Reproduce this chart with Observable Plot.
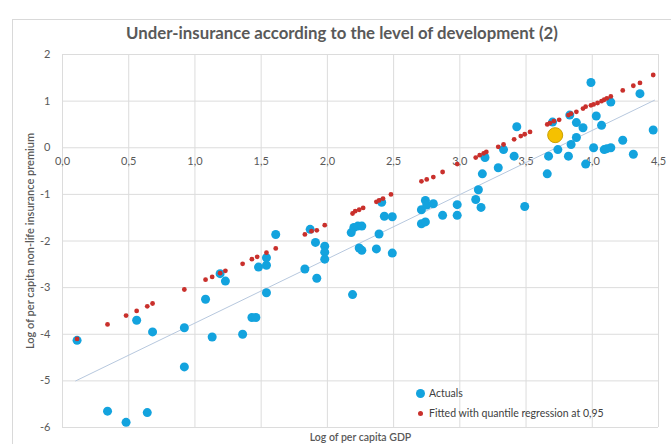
<!DOCTYPE html>
<html><head><meta charset="utf-8">
<script src="https://cdn.jsdelivr.net/npm/d3@7"></script>
<script src="https://cdn.jsdelivr.net/npm/@observablehq/plot@0.6"></script>
<style>
body{margin:0;background:#fff;}
#wrap{position:relative;width:671px;height:444px;overflow:hidden;font-family:Lato,"Open Sans",sans-serif;}
#frame{position:absolute;left:12px;top:19px;width:700px;height:500px;border:1px solid #d9d9d9;box-sizing:border-box;}
#chart{position:absolute;left:0;top:0;}
#title{position:absolute;top:22px;left:24px;width:636px;text-align:center;font-size:16.8px;font-weight:700;color:#595959;white-space:nowrap;}
#legend{position:absolute;left:415px;top:383px;font-size:10.5px;color:#404040;line-height:20px;}
#legend .row{display:flex;align-items:center;height:20px;}
#legend .sw{display:inline-block;border-radius:50%;margin-right:4px;}
</style></head>
<body>
<div id="wrap">
  <div id="frame"></div>
  <div id="chart"></div>
  <div id="title">Under-insurance according to the level of development (2)</div>
  <div id="legend">
    <div class="row"><span class="sw" style="width:9px;height:9px;background:#13a3de;margin-left:1px"></span>Actuals</div>
    <div class="row"><span class="sw" style="width:5px;height:5px;background:#c9302c;margin-left:3px;margin-right:6px"></span>Fitted with quantile regression at 0,95</div>
  </div>
</div>
<script>
// Axis ticks and labels
const xTicks = [0, 0.5, 1, 1.5, 2, 2.5, 3, 3.5, 4, 4.5];
const xTickLabels = ["0,0","0,5","1,0","1,5","2,0","2,5","3,0","3,5","4,0","4,5"];
const yTicks = [2, 1, 0, -1, -2, -3, -4, -5, -6];
const yTickLabels = ["2","1","0","-1","-2","-3","-4","-5","-6"];

// Actuals: log per capita GDP (x), log per capita non-life premium (y)
const actualX = [0.11,0.34,0.48,0.64,0.56,0.68,0.92,0.92,1.08,1.13,1.23,1.19,1.36,1.43,1.46,1.61,1.48,1.54,1.54,1.54,
  1.83,1.87,1.91,1.92,1.98,1.98,1.98,2.18,2.20,2.23,2.26,2.24,2.26,2.19,2.37,2.39,2.41,2.43,2.49,2.49,
  2.71,2.74,2.71,2.74,2.75,2.80,2.87,2.98,2.98,3.12,3.14,3.16,3.17,3.19,3.29,3.33,3.41,3.43,3.49,3.66,
  3.67,3.70,3.74,3.82,3.84,3.83,3.88,3.88,3.93,3.95,3.99,4.01,4.03,4.07,4.09,4.11,4.14,4.14,4.23,4.31,4.36,4.46];
const actualY = [-4.13,-5.65,-5.89,-5.68,-3.70,-3.95,-3.86,-4.70,-3.25,-4.06,-2.86,-2.70,-4.00,-3.64,-3.64,-1.86,-2.56,-2.52,-2.36,-3.11,
  -2.60,-1.75,-2.03,-2.80,-2.11,-2.24,-2.39,-1.82,-1.71,-1.68,-1.68,-2.15,-2.20,-3.15,-2.17,-1.85,-1.17,-1.47,-1.48,-2.26,
  -1.63,-1.59,-1.33,-1.13,-1.23,-1.20,-1.45,-1.22,-1.45,-1.11,-0.90,-1.28,-0.56,-0.21,-0.43,-0.04,-0.18,0.45,-1.26,-0.56,
  -0.18,0.55,-0.04,-0.18,0.07,0.70,0.54,0.22,0.43,-0.35,1.40,0.00,0.68,0.48,-0.04,-0.02,0.00,0.98,0.16,-0.14,1.16,0.38];

// Fitted with quantile regression at 0,95
const fittedX = [0.11,0.34,0.48,0.56,0.64,0.68,0.92,1.08,1.13,1.19,1.23,1.36,1.43,1.47,1.54,1.61,1.83,1.88,1.92,1.98,
  2.19,2.21,2.24,2.27,2.37,2.39,2.42,2.48,2.71,2.75,2.80,2.87,2.98,3.12,3.15,3.18,3.20,3.29,3.33,3.41,
  3.46,3.49,3.53,3.66,3.68,3.71,3.75,3.82,3.84,3.88,3.93,3.95,3.99,4.01,4.04,4.07,4.09,4.11,4.14,4.23,4.31,4.36,4.46];
const fittedY = [-4.10,-3.79,-3.60,-3.50,-3.40,-3.34,-3.04,-2.83,-2.77,-2.69,-2.64,-2.49,-2.39,-2.34,-2.25,-2.16,-1.86,-1.79,-1.77,-1.66,
  -1.41,-1.36,-1.33,-1.29,-1.16,-1.13,-1.09,-1.00,-0.72,-0.68,-0.63,-0.52,-0.35,-0.21,-0.16,-0.12,-0.09,0.02,0.07,0.18,
  0.25,0.29,0.34,0.50,0.53,0.57,0.60,0.70,0.73,0.77,0.84,0.88,0.91,0.93,0.96,1.00,1.03,1.06,1.10,1.23,1.33,1.39,1.56];

// Linear trend line of actuals (endpoints)
const trendX = [0.10, 4.47];
const trendY = [-5.00, 1.02];

// Highlighted country
const highlightX = [3.72];
const highlightY = [0.27];

const actuals = actualX.map((x, i) => ({x, y: actualY[i]}));
const fitted = fittedX.map((x, i) => ({x, y: fittedY[i]}));
const trend = trendX.map((x, i) => ({x, y: trendY[i]}));
const highlight = highlightX.map((x, i) => ({x, y: highlightY[i]}));

const chart = Plot.plot({
  width: 671, height: 444,
  marginLeft: 62, marginRight: 13, marginTop: 54, marginBottom: 17,
  style: {background: "transparent", fontFamily: "Lato, 'Open Sans', sans-serif", color: "#595959", fontSize: "11px"},
  x: {domain: [0, 4.5], axis: null},
  y: {domain: [-6, 2], label: null},
  marks: [
    Plot.gridX(xTicks, {stroke: "#dcdcdc", strokeOpacity: 1}),
    Plot.gridY(yTicks, {stroke: "#dcdcdc", strokeOpacity: 1}),
    Plot.axisY(yTicks, {tickSize: 0, tickPadding: 12, label: null, tickFormat: d => yTickLabels[yTicks.indexOf(d)], fill: "#595959", fontSize: 11}),
    Plot.text(xTicks, {x: d => d, y: () => 0, dy: 14, text: (d, i) => xTickLabels[i], fill: "#595959", fontSize: 11}),
    Plot.line(trend, {x: "x", y: "y", stroke: "#b7c8de", strokeWidth: 1}),
    Plot.dot(actuals, {x: "x", y: "y", r: 4.5, fill: "#13a3de"}),
    Plot.dot(fitted, {x: "x", y: "y", r: 2.4, fill: "#c9302c"}),
    Plot.dot(highlight, {x: "x", y: "y", r: 7.5, fill: "#f5c100", stroke: "#caa000", strokeWidth: 1}),
    Plot.text(["Log of per capita GDP"], {frameAnchor: "bottom", dy: 10, lineAnchor: "middle", text: d => d, fill: "#595959", fontSize: 10.5, fontWeight: 600}),
    Plot.text(["Log of per capita non-life insurance premium"], {frameAnchor: "left", dx: -32, rotate: -90, textAnchor: "middle", lineAnchor: "middle", text: d => d, fill: "#595959", fontSize: 11, fontWeight: 600})
  ]
});
document.getElementById("chart").appendChild(chart);
</script>
</body></html>
